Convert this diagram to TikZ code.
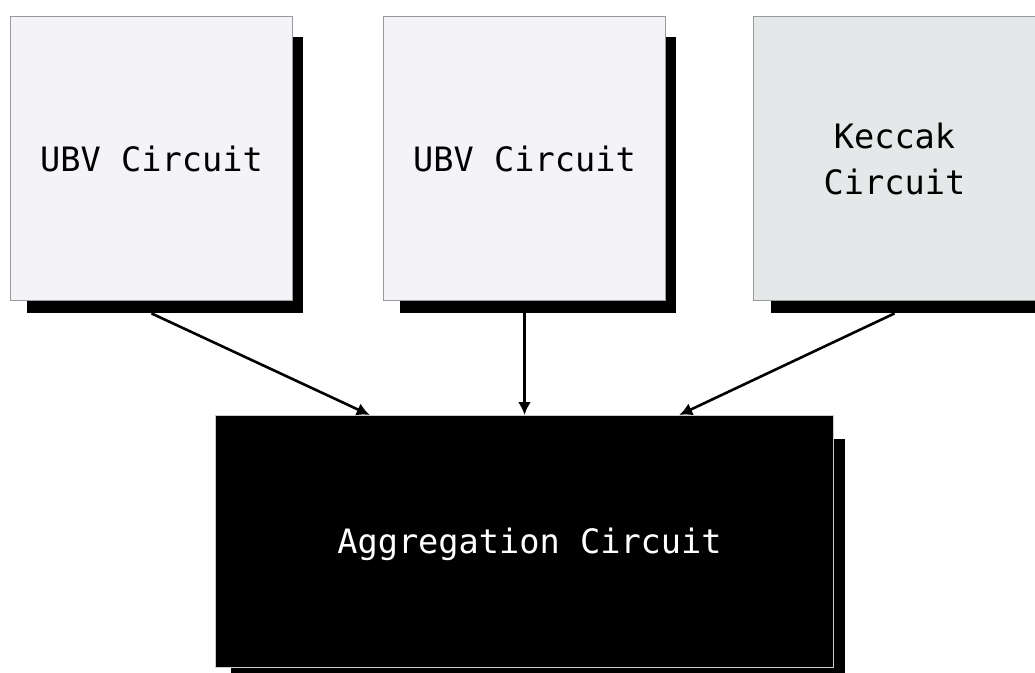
\documentclass[tikz,border=0pt]{standalone}
\usepackage{fontspec}
\setmonofont{DejaVu Sans Mono}
\usetikzlibrary{arrows.meta,calc}
\definecolor{boxfill}{HTML}{F4F4F8}
\definecolor{keccakfill}{HTML}{E4E8E8}
\definecolor{boxline}{HTML}{9A9A9A}
\definecolor{aggline}{HTML}{C8CCCC}
\tikzset{
  cbox/.style={draw=boxline,line width=1pt,fill=boxfill,minimum width=282pt,minimum height=284pt,inner sep=0pt,
    font=\ttfamily\fontsize{33.6pt}{46pt}\selectfont,align=center,anchor=north west},
  shadowbox/.style={fill=black,draw=none,inner sep=0pt,anchor=north west},
  arr/.style={line width=2.6pt,-{Latex[length=13pt,width=13pt]}},
}
\begin{document}
\begin{tikzpicture}[x=1pt,y=-1pt]
\useasboundingbox (0,0) rectangle (1035,672);
% shadows
\node[shadowbox,minimum width=276pt,minimum height=276pt] (s1) at (27,37) {};
\node[shadowbox,minimum width=276pt,minimum height=276pt] (s2) at (400,37) {};
\node[shadowbox,minimum width=276pt,minimum height=276pt] (s3) at (771,37) {};
\node[shadowbox,minimum width=614pt,minimum height=240pt] (sa) at (231,439) {};
% boxes
\node[cbox] (b1) at (10,16) {UBV Circuit};
\node[cbox] (b2) at (383,16) {UBV Circuit};
\node[cbox,fill=keccakfill] (b3) at (753,16) {Keccak\\Circuit};
\node[cbox,fill=black,draw=aggline,minimum width=618pt,minimum height=252pt] (agg) at (215,415) {};
\node[font=\ttfamily\fontsize{33.6pt}{46pt}\selectfont,text=white,inner sep=0pt] (aggtext) at ([xshift=5pt,yshift=-3pt]agg.center) {Aggregation Circuit};
% connectors
\draw[arr] (b1.center |- s1.south) -- ($(agg.north west)!0.25!(agg.north east)$);
\draw[arr] (b2.center |- s2.south) -- (b2.center |- agg.north);
\draw[arr] (b3.center |- s3.south) -- ($(agg.north west)!0.75!(agg.north east)$);
\end{tikzpicture}
\end{document}
